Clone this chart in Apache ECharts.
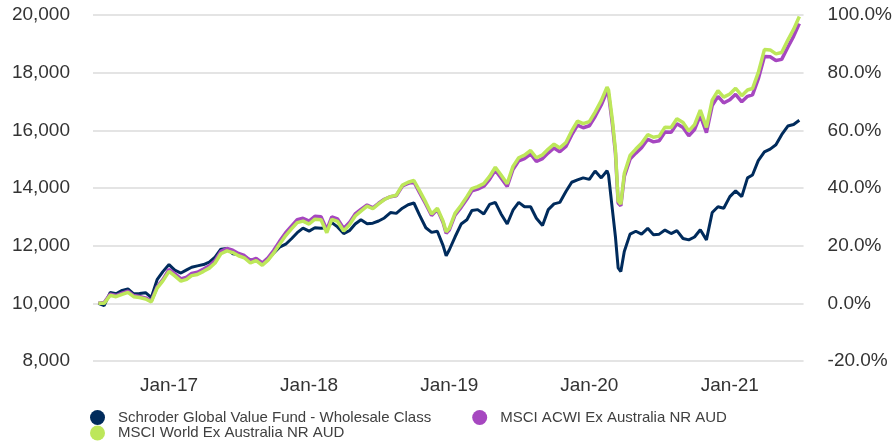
<!DOCTYPE html>
<html>
<head>
<meta charset="utf-8">
<script src="https://cdn.jsdelivr.net/npm/echarts@6/dist/echarts.min.js"></script>
<style>
  html, body { margin: 0; padding: 0; background: #fff; }
  #chart { width: 895px; height: 445px; }
</style>
</head>
<body>
<div id="chart"></div>
<script>
// semi-monthly observations, a few extra points around the sharp drops
const dates = [
  '2016-07-01','2016-07-16','2016-08-01','2016-08-16','2016-09-01','2016-09-16','2016-10-01','2016-10-16','2016-11-01','2016-11-16','2016-12-01','2016-12-16',
  '2017-01-01','2017-01-16','2017-02-01','2017-02-16','2017-03-01','2017-03-16','2017-04-01','2017-04-16','2017-05-01','2017-05-16','2017-06-01','2017-06-16',
  '2017-07-01','2017-07-16','2017-08-01','2017-08-16','2017-09-01','2017-09-16','2017-10-01','2017-10-16','2017-11-01','2017-11-16','2017-12-01','2017-12-16',
  '2018-01-01','2018-01-16','2018-02-01','2018-02-16','2018-03-01','2018-03-16','2018-04-01','2018-04-16','2018-05-01','2018-05-16','2018-06-01','2018-06-16',
  '2018-07-01','2018-07-16','2018-08-01','2018-08-16','2018-09-01','2018-09-16','2018-10-01','2018-10-16','2018-11-01','2018-11-16','2018-12-01','2018-12-16','2018-12-24',
  '2019-01-01','2019-01-16','2019-02-01','2019-02-16','2019-03-01','2019-03-16','2019-04-01','2019-04-16','2019-05-01','2019-05-16','2019-06-01','2019-06-16',
  '2019-07-01','2019-07-16','2019-08-01','2019-08-16','2019-09-01','2019-09-16','2019-10-01','2019-10-16','2019-11-01','2019-11-16','2019-12-01','2019-12-16',
  '2020-01-01','2020-01-16','2020-02-01','2020-02-16','2020-02-20','2020-03-01','2020-03-09','2020-03-16','2020-03-23','2020-04-01','2020-04-16','2020-05-01','2020-05-16','2020-06-01','2020-06-16',
  '2020-07-01','2020-07-16','2020-08-01','2020-08-16','2020-09-01','2020-09-16','2020-10-01','2020-10-16','2020-11-01','2020-11-16','2020-12-01','2020-12-16',
  '2021-01-01','2021-01-16','2021-02-01','2021-02-16','2021-03-01','2021-03-16','2021-04-01','2021-04-16','2021-05-01','2021-05-16','2021-06-01','2021-06-16','2021-07-01'
];

const fund = [
  10000, 9920, 10380, 10330, 10450, 10500, 10330, 10340, 10370, 10200, 10820, 11100,
  11345, 11150, 11050, 11160, 11250, 11300, 11345, 11430, 11600, 11880, 11900, 11720,
  11690, 11620, 11500, 11500, 11350, 11520, 11750, 11950, 12050, 12240, 12450, 12610,
  12505, 12620, 12600, 12620, 12800, 12650, 12420, 12520, 12750, 12900, 12760, 12780,
  12855, 12960, 13150, 13120, 13300, 13420, 13480, 13050, 12620, 12460, 12500, 12000, 11650,
  11850, 12300, 12750, 12900, 13220, 13250, 13100, 13430, 13500, 13100, 12750, 13230,
  13500, 13350, 13350, 12950, 12700, 13250, 13450, 13500, 13880, 14200, 14280, 14350,
  14300, 14590, 14350, 14600, 14450, 13250, 12300, 11230, 11100, 11800, 12400, 12500, 12400, 12600, 12380,
  12400, 12540, 12420, 12520, 12250, 12200, 12300, 12550, 12200, 13150, 13350, 13300,
  13700, 13900, 13700, 14350, 14450, 14950, 15250, 15350, 15500, 15850, 16150, 16200, 16350
];

const acwi = [
  10000, 10030, 10320, 10270, 10350, 10420, 10270, 10240, 10190, 10090, 10570, 10820,
  11180, 11030, 10850, 10910, 11040, 11080, 11190, 11300, 11480, 11800, 11900, 11840,
  11730, 11660, 11480, 11560, 11400, 11580, 11840, 12150, 12450, 12680, 12900, 12950,
  12850, 13020, 13000, 12550, 13000, 12930, 12600, 12800, 13100, 13260, 13410, 13310,
  13470, 13610, 13700, 13730, 14070, 14160, 14210, 13830, 13440, 13050, 13250, 12800, 12430,
  12540, 13060, 13330, 13620, 13900, 13960, 14060, 14300, 14620, 14350, 14050, 14640,
  14940, 15020, 15180, 14920, 15020, 15220, 15390, 15260, 15440, 15840, 16180, 16090,
  16160, 16480, 16880, 17350, 17250, 16220, 15200, 13480, 13380, 14400, 15000, 15210, 15400, 15690, 15600,
  15640, 15940, 15930, 16230, 16100, 15810, 16030, 16520, 15920, 16860, 17180, 16950,
  17060, 17250, 16990, 17180, 17230, 17780, 18560, 18550, 18420, 18460, 18880, 19260, 19700
];

const world = [
  10000, 10000, 10280, 10230, 10310, 10380, 10230, 10200, 10150, 10050, 10530, 10780,
  11110, 10950, 10770, 10830, 10960, 11000, 11110, 11220, 11400, 11720, 11820, 11760,
  11650, 11580, 11400, 11480, 11320, 11500, 11750, 12050, 12350, 12580, 12800, 12850,
  12750, 12920, 12900, 12450, 12915, 12840, 12510, 12720, 13030, 13200, 13370, 13280,
  13450, 13600, 13700, 13750, 14100, 14200, 14260, 13900, 13500, 13100, 13300, 12850, 12480,
  12600, 13120, 13400, 13700, 13980, 14050, 14150, 14400, 14720, 14450, 14150, 14750,
  15050, 15140, 15300, 15050, 15150, 15350, 15520, 15390, 15580, 15980, 16320, 16230,
  16300, 16630, 17030, 17500, 17400, 16350, 15300, 13550, 13440, 14500, 15130, 15350, 15550, 15850, 15760,
  15800, 16110, 16100, 16400, 16270, 15980, 16200, 16700, 16100, 17050, 17380, 17150,
  17260, 17460, 17200, 17400, 17450, 18000, 18800, 18790, 18650, 18700, 19130, 19500, 19950
];

const names = [
  'Schroder Global Value Fund - Wholesale Class',
  'MSCI ACWI Ex Australia NR AUD',
  'MSCI World Ex Australia NR AUD'
];
const colors = ['#002b5c', '#a647c0', '#bde75a'];

const tickDates = ['2017-01-01', '2018-01-01', '2019-01-01', '2020-01-01', '2021-01-01'];
const tickLabels = ['Jan-17', 'Jan-18', 'Jan-19', 'Jan-20', 'Jan-21'];

function toTime(d) {
  return +echarts.time.parse(d);
}
const tickTimes = tickDates.map(toTime);

function pairs(vals) {
  return vals.map((v, i) => [toTime(dates[i]), v]);
}

const labelFont = { fontFamily: 'Liberation Sans, Arial, sans-serif', fontSize: 19, color: '#333' };
const legendText = { fontFamily: 'Liberation Sans, Arial, sans-serif', fontSize: 15, color: '#404040', padding: [0, 0, 0, 8] };

const chart = echarts.init(document.getElementById('chart'));

const option = {
  animation: false,
  grid: { left: 93, right: 90, top: 15, bottom: 84, containLabel: false },
  legend: [
    {
      data: [names[0], names[1]],
      left: 90, top: 410, padding: 0, itemGap: 41,
      icon: 'circle', itemWidth: 15, itemHeight: 15,
      textStyle: legendText
    },
    {
      data: [names[2]],
      left: 90, top: 425.5, padding: 0,
      icon: 'circle', itemWidth: 15, itemHeight: 15,
      textStyle: legendText
    }
  ],
  xAxis: {
    type: 'value',
    min: toTime('2016-06-17'),
    max: toTime('2021-07-12'),
    axisLine: { show: false },
    axisTick: { show: false },
    splitLine: { show: false },
    axisLabel: Object.assign({
      margin: 15,
      customValues: tickTimes,
      formatter: function (v) {
        const i = tickTimes.findIndex(t => Math.abs(t - v) < 86400000);
        return i >= 0 ? tickLabels[i] : '';
      }
    }, labelFont)
  },
  yAxis: [
    {
      type: 'value',
      min: 8000, max: 20000, interval: 2000,
      axisLine: { show: false },
      axisTick: { show: false },
      splitLine: { lineStyle: { color: '#e4e4e4', width: 2 } },
      axisLabel: Object.assign({
        margin: 23,
        formatter: v => v.toLocaleString('en-US')
      }, labelFont)
    },
    {
      type: 'value',
      position: 'right',
      min: -20, max: 100, interval: 20,
      axisLine: { show: false },
      axisTick: { show: false },
      splitLine: { show: false },
      axisLabel: Object.assign({
        margin: 24,
        formatter: v => v.toFixed(1) + '%'
      }, labelFont)
    }
  ],
  series: [
    {
      name: names[0], type: 'line', data: pairs(fund), yAxisIndex: 0,
      showSymbol: false, color: colors[0], lineStyle: { width: 3 }, z: 2
    },
    {
      name: names[1], type: 'line', data: pairs(acwi), yAxisIndex: 0,
      showSymbol: false, color: colors[1], lineStyle: { width: 3.5 }, z: 3
    },
    {
      name: names[2], type: 'line', data: pairs(world), yAxisIndex: 0,
      showSymbol: false, color: colors[2], lineStyle: { width: 3.5 }, z: 4
    }
  ]
};

chart.setOption(option);
</script>
</body>
</html>
